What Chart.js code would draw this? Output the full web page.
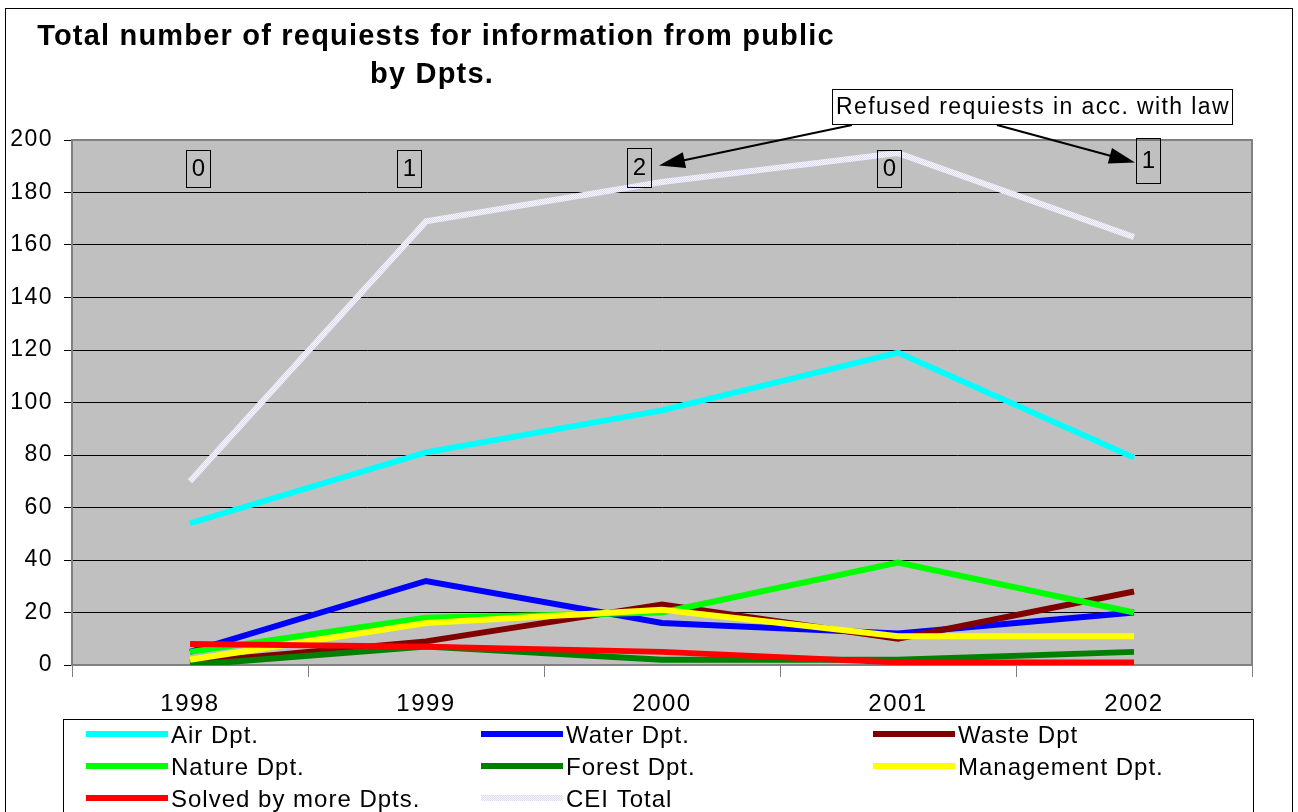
<!DOCTYPE html>
<html>
<head>
<meta charset="utf-8">
<script src="https://cdn.jsdelivr.net/npm/chart.js@4/dist/chart.umd.min.js"></script>
<style>
html,body{margin:0;padding:0;background:#fff}
#wrap{width:1298px;height:812px;position:relative;overflow:hidden}
</style>
</head>
<body>
<div id="wrap"><canvas id="canvas" width="1298" height="812"></canvas></div>
<script>
// data
var years = ["1998", "1999", "2000", "2001", "2002"];
var airDpt = [54, 81, 97, 119, 79];
var waterDpt = [5, 32, 16, 12, 20];
var wasteDpt = [1, 9, 23, 10, 28];
var natureDpt = [5, 18, 20, 39, 20];
var forestDpt = [0, 7, 2, 2, 5];
var managementDpt = [2, 16, 21, 11, 11];
var solvedByMore = [8, 7, 5, 1, 1];
var ceiTotal = [70, 169, 184, 195, 163];
var refused = [0, 1, 2, 0, 1];
var yMin = 0, yMax = 200, yStep = 20;

var FONT = "'Liberation Sans', Arial, sans-serif";

// light checkered fill for CEI Total
function ceiPattern() {
    var c = document.createElement('canvas');
    c.width = 2; c.height = 2;
    var g = c.getContext('2d');
    g.fillStyle = '#f6f6fc'; g.fillRect(0, 0, 2, 2);
    g.fillStyle = '#dcdcee'; g.fillRect(0, 0, 1, 1); g.fillRect(1, 1, 1, 1);
    return g.createPattern(c, 'repeat');
}
var ceiColor = ceiPattern();

function series(label, data, color, idx) {
    return {
        label: label,
        data: data,
        borderColor: color,
        backgroundColor: color,
        borderWidth: 6,
        pointRadius: 0,
        tension: 0,
        fill: false,
        borderCapStyle: 'butt',
        order: 10 - idx   // later series on top, like the original
    };
}

function arrow(ctx, x1, y1, x2, y2) {
    var ang = Math.atan2(y2 - y1, x2 - x1), len = 26, w = 8;
    ctx.beginPath();
    ctx.moveTo(x1, y1);
    ctx.lineTo(x2 - Math.cos(ang) * len * 0.8, y2 - Math.sin(ang) * len * 0.8);
    ctx.stroke();
    ctx.beginPath();
    ctx.moveTo(x2, y2);
    ctx.lineTo(x2 - Math.cos(ang) * len - Math.sin(ang) * w, y2 - Math.sin(ang) * len + Math.cos(ang) * w);
    ctx.lineTo(x2 - Math.cos(ang) * len + Math.sin(ang) * w, y2 - Math.sin(ang) * len - Math.cos(ang) * w);
    ctx.closePath();
    ctx.fill();
}

var framePlugin = {
    id: 'frame',
    beforeDraw: function (chart) {
        var ctx = chart.ctx, a = chart.chartArea;
        ctx.save();
        ctx.fillStyle = '#fff';
        ctx.fillRect(0, 0, chart.width, chart.height);
        ctx.strokeStyle = '#000';
        ctx.lineWidth = 1;
        ctx.strokeRect(5.5, 8.5, 1287, 830);
        ctx.fillStyle = '#c0c0c0';
        ctx.fillRect(a.left, a.top, a.right - a.left, a.bottom - a.top);
        ctx.restore();
        // the old rendering is a little wider per glyph
        ctx.letterSpacing = '1.5px';
    },
    beforeDatasetsDraw: function (chart) {
        var ctx = chart.ctx, a = chart.chartArea;
        ctx.save();
        ctx.strokeStyle = '#808080';
        ctx.lineWidth = 2;
        ctx.strokeRect(a.left, a.top, a.right - a.left, a.bottom - a.top);
        ctx.restore();
    },
    afterDraw: function (chart) {
        var ctx = chart.ctx, xs = chart.scales.x;
        ctx.save();
        // title
        ctx.fillStyle = '#000';
        ctx.font = 'bold 29px ' + FONT;
        ctx.letterSpacing = '1.2px';
        ctx.textAlign = 'center';
        ctx.textBaseline = 'middle';
        ctx.fillText('Total number of requiests for information from public', 436, 37);
        ctx.fillText('by Dpts.', 432, 75);

        // refused-request numbers above each year
        var dx = [8, -17, -23, -9, 14];
        var top = [150, 150, 148, 150, 138];
        var bot = [187, 187, 187, 187, 183];
        var boxes = [];
        ctx.font = '24px ' + FONT;
        ctx.letterSpacing = '0px';
        ctx.lineWidth = 1;
        for (var i = 0; i < refused.length; i++) {
            var cx = xs.getPixelForValue(i) + dx[i];
            var cy = (top[i] + bot[i]) / 2;
            ctx.strokeStyle = '#000';
            ctx.strokeRect(Math.round(cx - 12) + 0.5, top[i] + 0.5, 24, bot[i] - top[i]);
            ctx.fillStyle = '#000';
            ctx.fillText(String(refused[i]), cx + 0.5, cy + 1);
            boxes.push({x: cx, y: cy});
        }

        // callout box
        var bx = 832, by = 89, bw = 400, bh = 35;
        ctx.fillStyle = '#fff';
        ctx.fillRect(bx, by, bw, bh);
        ctx.strokeStyle = '#000';
        ctx.strokeRect(bx + 0.5, by + 0.5, bw, bh);
        ctx.fillStyle = '#000';
        ctx.font = '23px ' + FONT;
        ctx.letterSpacing = '1.4px';
        ctx.fillText('Refused requiests in acc. with law', bx + bw / 2 + 1, by + bh / 2 + 1);

        ctx.lineWidth = 2;
        ctx.strokeStyle = '#000';
        ctx.fillStyle = '#000';
        arrow(ctx, 852, by + bh + 1, boxes[2].x + 20, boxes[2].y - 2);
        arrow(ctx, 997, by + bh + 1, boxes[4].x - 13, boxes[4].y + 2);

        // legend
        var lx = 63, ly = 719;
        ctx.lineWidth = 1;
        ctx.strokeStyle = '#000';
        ctx.fillStyle = '#fff';
        ctx.fillRect(lx, ly, 1190, 120);
        ctx.strokeRect(lx + 0.5, ly + 0.5, 1190, 120);
        var colX = [86, 481, 873], rowY = [734, 766, 798];
        ctx.font = '24px ' + FONT;
        ctx.letterSpacing = '1px';
        ctx.textAlign = 'left';
        chart.data.datasets.forEach(function (ds, k) {
            var c = k % 3, r = Math.floor(k / 3);
            var x0 = colX[c], y0 = rowY[r];
            ctx.strokeStyle = ds.borderColor;
            ctx.lineWidth = 6;
            ctx.beginPath();
            ctx.moveTo(x0, y0);
            ctx.lineTo(x0 + 82, y0);
            ctx.stroke();
            ctx.fillStyle = '#000';
            ctx.fillText(ds.label, x0 + 85, y0 + 2);
        });
        ctx.restore();
    }
};

var ctx = document.getElementById('canvas').getContext('2d');
var config = {
    type: 'line',
    data: {
        labels: years,
        datasets: [
            series('Air Dpt.', airDpt, '#00ffff', 0),
            series('Water Dpt.', waterDpt, '#0000ff', 1),
            series('Waste Dpt', wasteDpt, '#800000', 2),
            series('Nature Dpt.', natureDpt, '#00ff00', 3),
            series('Forest Dpt.', forestDpt, '#008000', 4),
            series('Management Dpt.', managementDpt, '#ffff00', 5),
            series('Solved by more Dpts.', solvedByMore, '#ff0000', 6),
            series('CEI Total', ceiTotal, ceiColor, 7)
        ]
    },
    options: {
        responsive: false,
        animation: false,
        layout: {padding: {top: 140, left: 0, right: 46, bottom: 97}},
        plugins: {
            legend: {display: false},
            title: {display: false},
            tooltip: {enabled: false}
        },
        scales: {
            x: {
                offset: true,
                afterFit: function (s) { s.height = 50; },
                grid: {
                    offset: true,
                    drawOnChartArea: false,
                    drawTicks: true,
                    tickLength: 12,
                    tickColor: '#808080'
                },
                border: {color: '#404040', width: 2},
                ticks: {
                    color: '#000',
                    font: {family: FONT, size: 24},
                    padding: 13,
                    maxRotation: 0
                }
            },
            y: {
                min: yMin,
                max: yMax,
                afterFit: function (s) { s.width = 72; },
                grid: {
                    color: '#000',
                    lineWidth: 1,
                    drawTicks: true,
                    tickLength: 8,
                    tickColor: '#000'
                },
                border: {color: '#808080', width: 1},
                ticks: {
                    stepSize: yStep,
                    color: '#000',
                    font: {family: FONT, size: 23},
                    padding: 11
                }
            }
        }
    },
    plugins: [framePlugin]
};
var myLineChart = new Chart(ctx, config);
</script>
</body>
</html>
